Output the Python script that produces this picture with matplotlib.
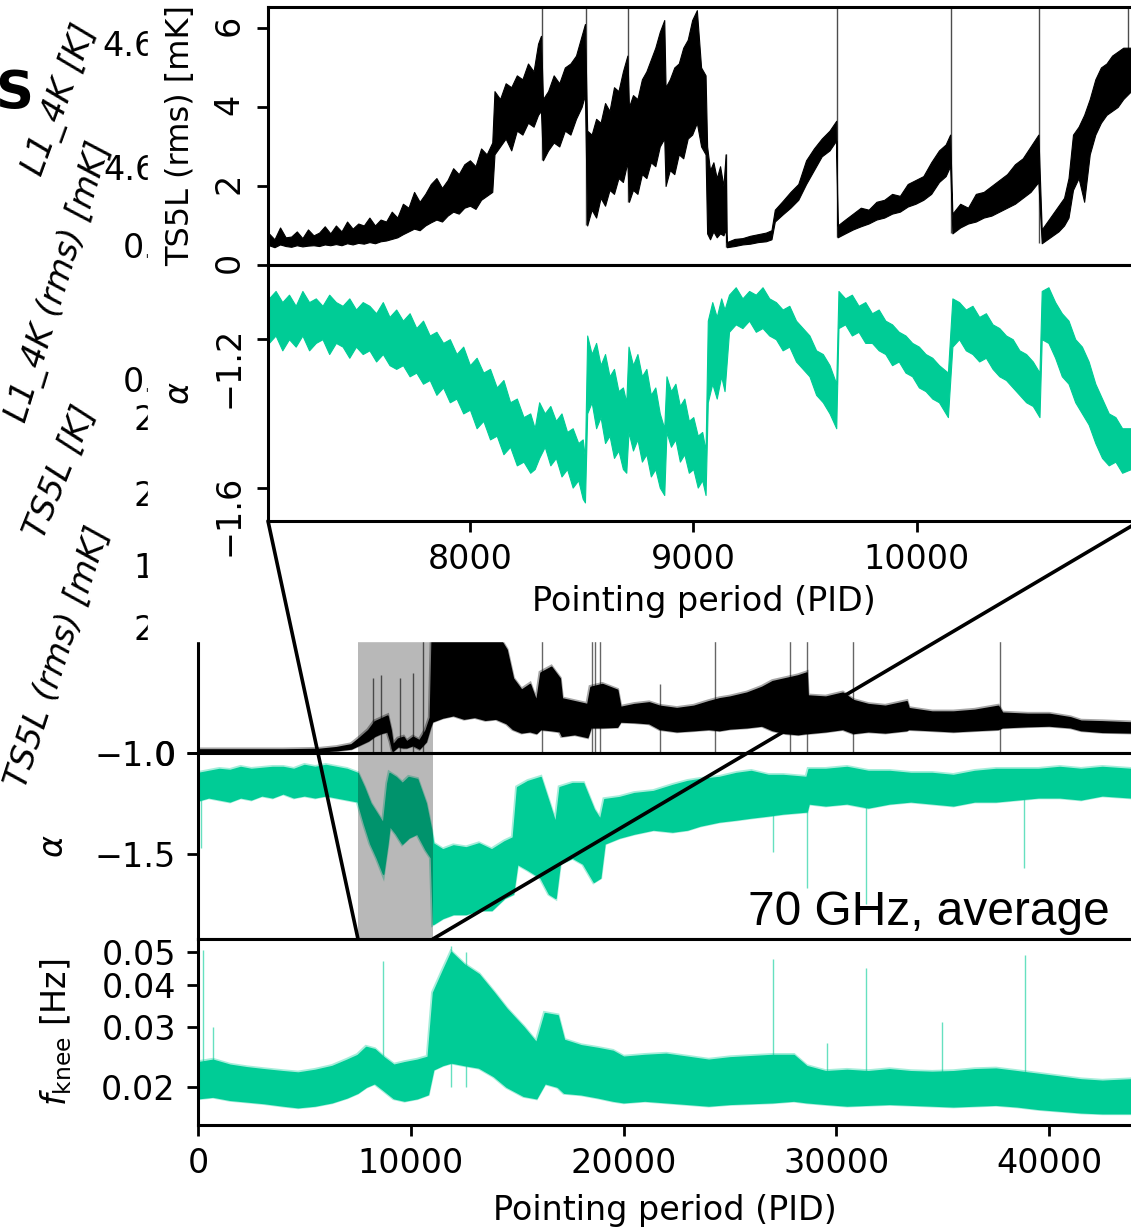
import matplotlib
matplotlib.use('Agg')
import matplotlib.pyplot as plt
from matplotlib.patches import Rectangle, ConnectionPatch

# ---------------- data ----------------
# zoom inset, TS5L rms [mK]: lower / upper envelope of the noisy trace
inset_pid = [7100, 7125, 7150, 7175, 7200, 7225, 7250, 7275, 7300, 7325, 7350, 7375, 7400, 7425,
             7450, 7475, 7500, 7525, 7550, 7575, 7600, 7625, 7650, 7675, 7700, 7725, 7750, 7775,
             7800, 7825, 7850, 7875, 7900, 7925, 7950, 7975, 8000, 8025, 8050, 8075, 8100,
             8110, 8135, 8160, 8185, 8210, 8235, 8260, 8285, 8305, 8318,
             8327, 8350, 8375, 8400, 8425, 8450, 8475, 8500, 8515,
             8525, 8545, 8565, 8585, 8605, 8625, 8645, 8665, 8685, 8705,
             8712, 8730, 8750, 8770, 8790, 8810, 8830, 8850, 8870,
             8876, 8895, 8915, 8935, 8955, 8975, 8995, 9016, 9035, 9055,
             9062, 9075, 9090, 9105, 9120, 9135, 9145,
             9150, 9185, 9220, 9255, 9290, 9325, 9350, 9365, 9400, 9435, 9470, 9505, 9540, 9575,
             9610, 9640,
             9646, 9680, 9715, 9750, 9785, 9820, 9855, 9890, 9925, 9960, 9995, 10030, 10065,
             10100, 10130, 10150,
             10160, 10195, 10230, 10265, 10300, 10335, 10370, 10405, 10440, 10475, 10510, 10545,
             10560, 10585, 10610, 10635, 10660, 10680, 10700, 10725, 10750, 10775, 10800, 10825,
             10850, 10875, 10900, 10925, 10960]
inset_ts_lo = [0.50, 0.45, 0.52, 0.48, 0.46, 0.50, 0.47, 0.49, 0.50, 0.48, 0.52, 0.50, 0.53, 0.50,
               0.55, 0.52, 0.56, 0.54, 0.58, 0.55, 0.60, 0.62, 0.66, 0.70, 0.78, 0.85, 0.92, 0.88,
               1.00, 1.08, 1.15, 1.10, 1.25, 1.35, 1.30, 1.45, 1.50, 1.42, 1.65, 1.75, 1.85,
               2.80, 3.00, 3.20, 2.90, 3.40, 3.30, 3.60, 3.50, 3.80, 3.90,
               2.65, 2.90, 3.10, 3.00, 3.40, 3.30, 3.70, 4.00, 4.30,
               1.00, 1.40, 1.20, 1.70, 1.50, 1.90, 1.80, 2.20, 2.10, 2.60,
               1.60, 1.90, 1.80, 2.30, 2.20, 2.60, 2.50, 3.00, 3.20,
               2.00, 2.40, 2.30, 2.80, 2.70, 3.20, 3.30, 3.60, 3.00, 2.80,
               0.80, 0.65, 0.85, 0.70, 0.80, 0.75, 0.90,
               0.45, 0.48, 0.52, 0.54, 0.58, 0.60, 0.65, 1.10, 1.28, 1.45, 1.65, 2.05, 2.40, 2.75,
               2.90, 3.15,
               0.70, 0.80, 0.90, 0.98, 1.05, 1.15, 1.20, 1.30, 1.35, 1.48, 1.55, 1.65, 1.80,
               2.10, 2.25, 2.50,
               0.80, 0.95, 1.05, 1.10, 1.20, 1.25, 1.35, 1.45, 1.55, 1.70, 1.85, 2.10,
               0.55, 0.65, 0.75, 0.85, 1.00, 1.20, 1.90, 2.20, 1.60, 2.80, 3.30, 3.60,
               3.80, 3.90, 4.00, 4.20, 4.40]
inset_ts_hi = [0.80, 0.65, 0.95, 0.70, 0.72, 0.85, 0.68, 0.90, 0.75, 0.82, 0.98, 0.80, 1.00, 0.85,
               1.10, 0.92, 1.05, 1.00, 1.20, 1.00, 1.15, 1.10, 1.35, 1.20, 1.55, 1.45, 1.85, 1.60,
               1.80, 2.05, 2.20, 1.95, 2.15, 2.45, 2.30, 2.55, 2.65, 2.50, 2.95, 2.80, 3.10,
               4.40, 4.20, 4.60, 4.50, 4.80, 4.70, 5.10, 4.90, 5.60, 5.80,
               4.20, 4.40, 4.80, 4.60, 5.00, 5.10, 5.30, 5.80, 6.10,
               3.40, 3.30, 3.70, 3.60, 4.10, 3.90, 4.50, 4.40, 4.90, 5.30,
               4.00, 4.30, 4.20, 4.70, 4.90, 5.20, 5.50, 5.90, 6.20,
               4.50, 4.70, 5.00, 5.10, 5.50, 5.70, 6.20, 6.45, 5.00, 4.80,
               3.00, 2.40, 2.60, 2.20, 2.50, 2.00, 2.80,
               0.58, 0.66, 0.68, 0.74, 0.78, 0.82, 0.88, 1.40, 1.62, 1.85, 2.05, 2.65, 2.95, 3.20,
               3.40, 3.65,
               1.00, 1.15, 1.30, 1.45, 1.40, 1.60, 1.65, 1.80, 1.75, 2.05, 2.15, 2.25, 2.60,
               2.90, 3.05, 3.30,
               1.30, 1.55, 1.45, 1.80, 1.85, 2.00, 2.15, 2.30, 2.55, 2.70, 3.00, 3.30,
               0.90, 1.10, 1.30, 1.50, 1.70, 2.20, 3.30, 3.50, 3.80, 4.20, 4.70, 5.00,
               5.10, 5.30, 5.40, 5.50, 5.50]
# single off-scale samples at the resets
inset_spike_pid = [8322, 8519, 8707, 9148, 9642, 10155, 10550, 10945]
inset_spike_lo = [2.65, 1.00, 1.60, 0.45, 0.70, 0.80, 0.55, 4.40]
inset_spike_hi = [7.0, 7.0, 7.0, 2.80, 7.0, 7.0, 7.0, 7.0]

# zoom inset, alpha
inset_al_pid = [7100, 7130, 7160, 7190, 7220, 7250, 7280, 7310, 7340, 7370, 7400, 7430, 7460, 7490,
                7520, 7550, 7580, 7610, 7640, 7670, 7700, 7730, 7760, 7790, 7820, 7850, 7880, 7910,
                7940, 7970, 8000, 8030, 8060, 8090, 8120, 8150, 8180, 8210, 8240, 8270, 8290,
                8310, 8335, 8360, 8385, 8410, 8435, 8460, 8485, 8505, 8515,
                8525, 8545, 8565, 8585, 8605, 8625, 8645, 8665, 8685, 8700, 8710, 8730, 8750, 8770,
                8790, 8810, 8830, 8850, 8870, 8880, 8900, 8920, 8940, 8960, 8980, 9000, 9020, 9040,
                9055, 9065, 9085, 9105, 9125, 9140,
                9160, 9190, 9220, 9250, 9280, 9310, 9340, 9370, 9400, 9430, 9460, 9490, 9520, 9550,
                9580, 9610, 9640,
                9650, 9680, 9710, 9740, 9770, 9800, 9830, 9860, 9890, 9920, 9950, 9980, 10010,
                10040, 10070, 10100, 10140,
                10160, 10190, 10220, 10250, 10280, 10310, 10340, 10370, 10400, 10430, 10460, 10490,
                10520, 10550,
                10560, 10590, 10620, 10650, 10680, 10710, 10740, 10770, 10800, 10830, 10860, 10890,
                10920, 10960]
inset_al_hi = [-1.09, -1.07, -1.10, -1.08, -1.11, -1.07, -1.10, -1.09, -1.11, -1.08, -1.10, -1.11, -1.09, -1.12,
               -1.10, -1.11, -1.13, -1.10, -1.14, -1.12, -1.15, -1.13, -1.17, -1.15, -1.19, -1.18, -1.21, -1.20,
               -1.24, -1.22, -1.27, -1.25, -1.29, -1.28, -1.33, -1.31, -1.37, -1.36, -1.41, -1.40, -1.44,
               -1.37, -1.40, -1.38, -1.42, -1.40, -1.45, -1.44, -1.48, -1.47, -1.52,
               -1.19, -1.24, -1.21, -1.27, -1.24, -1.30, -1.28, -1.34, -1.33, -1.37, -1.22, -1.27, -1.24, -1.30,
               -1.28, -1.35, -1.33, -1.40, -1.44, -1.30, -1.34, -1.32, -1.38, -1.36, -1.42, -1.41, -1.46, -1.45,
               -1.50, -1.15, -1.10, -1.14, -1.09, -1.12,
               -1.08, -1.06, -1.09, -1.07, -1.08, -1.06, -1.09, -1.10, -1.12, -1.11, -1.15, -1.17, -1.19, -1.23,
               -1.24, -1.27, -1.32,
               -1.07, -1.09, -1.08, -1.11, -1.10, -1.13, -1.12, -1.15, -1.16, -1.18, -1.19, -1.21, -1.22,
               -1.24, -1.25, -1.27, -1.29,
               -1.09, -1.10, -1.12, -1.11, -1.14, -1.13, -1.16, -1.17, -1.19, -1.20, -1.23, -1.24,
               -1.26, -1.29,
               -1.07, -1.06, -1.10, -1.13, -1.15, -1.20, -1.22, -1.26, -1.32, -1.36, -1.40, -1.41,
               -1.44, -1.44]
inset_al_lo = [-1.21, -1.19, -1.23, -1.20, -1.22, -1.19, -1.23, -1.21, -1.20, -1.24, -1.21, -1.22, -1.25, -1.22,
               -1.24, -1.23, -1.26, -1.24, -1.27, -1.28, -1.27, -1.30, -1.29, -1.32, -1.31, -1.35, -1.33, -1.37,
               -1.36, -1.40, -1.39, -1.44, -1.42, -1.47, -1.46, -1.51, -1.49, -1.54, -1.53, -1.56, -1.55,
               -1.52, -1.49, -1.54, -1.52, -1.57, -1.55, -1.60, -1.58, -1.63, -1.64,
               -1.40, -1.37, -1.44, -1.41, -1.48, -1.46, -1.52, -1.50, -1.55, -1.56, -1.45, -1.50, -1.47, -1.53,
               -1.51, -1.57, -1.55, -1.60, -1.62, -1.45, -1.49, -1.47, -1.53, -1.51, -1.56, -1.55, -1.60, -1.58,
               -1.62, -1.37, -1.32, -1.36, -1.30, -1.34,
               -1.18, -1.16, -1.17, -1.15, -1.18, -1.17, -1.19, -1.20, -1.23, -1.22, -1.26, -1.28, -1.30, -1.35,
               -1.37, -1.40, -1.44,
               -1.17, -1.16, -1.19, -1.18, -1.21, -1.21, -1.23, -1.24, -1.27, -1.26, -1.29, -1.30, -1.33,
               -1.34, -1.36, -1.37, -1.41,
               -1.22, -1.20, -1.23, -1.24, -1.26, -1.25, -1.28, -1.30, -1.31, -1.33, -1.35, -1.37,
               -1.38, -1.41,
               -1.20, -1.21, -1.25, -1.30, -1.32, -1.37, -1.40, -1.43, -1.48, -1.52, -1.54, -1.53,
               -1.56, -1.55]

# full mission, TS5L rms
ts_pid = [0, 2000, 4000, 5700, 6500, 7200, 7600, 8000, 8300, 8600, 8900, 9050, 9150, 9400, 9650,
          9800, 10100, 10400, 10700, 10900, 11000, 11500, 12000, 12500, 13000, 13500, 14000, 14500,
          14800, 15200, 15600, 15900, 16100, 16600, 17000, 17100, 17700, 18300, 18450, 19000, 19700,
          19850, 20500, 21200, 21700, 22500, 23300, 24000, 24500, 25000, 25800, 26500, 27000, 27600,
          28200, 28600, 28650, 29500, 30300, 30800, 31500, 32300, 33300, 33400, 34500, 35500, 36500,
          37600, 37800, 39000, 40000, 41000, 41500, 42500, 43850]
ts_lo = [0.02, 0.02, 0.02, 0.03, 0.05, 0.08, 0.15, 0.22, 0.30, 0.35, 0.38, 0.20, 0.04, 0.12, 0.10,
         0.10, 0.14, 0.08, 0.20, 0.45, 0.55, 0.62, 0.66, 0.60, 0.63, 0.58, 0.60, 0.52,
         0.42, 0.36, 0.38, 0.35, 0.42, 0.40, 0.38, 0.30, 0.33, 0.28, 0.45, 0.45, 0.46,
         0.55, 0.54, 0.52, 0.42, 0.38, 0.40, 0.42, 0.40, 0.43, 0.45, 0.48, 0.40, 0.35,
         0.33, 0.35, 0.35, 0.38, 0.42, 0.35, 0.38, 0.36, 0.40, 0.42, 0.40, 0.38, 0.40,
         0.42, 0.45, 0.47, 0.48, 0.45, 0.40, 0.37, 0.36]
ts_hi = [0.06, 0.06, 0.06, 0.07, 0.10, 0.15, 0.27, 0.40, 0.55, 0.60, 0.65, 0.40, 0.14, 0.25, 0.28,
         0.20, 0.28, 0.22, 0.40, 0.62, 2.20, 2.20, 2.20, 2.20, 2.20, 2.20, 2.10, 1.80,
         1.30, 1.10, 1.20, 0.90, 1.40, 1.50, 1.30, 0.95, 0.90, 0.85, 1.15, 1.20, 1.10,
         0.80, 0.85, 0.88, 0.82, 0.78, 0.82, 0.90, 0.95, 0.98, 1.05, 1.15, 1.25, 1.30,
         1.35, 1.40, 1.00, 0.98, 1.05, 0.92, 0.85, 0.82, 0.90, 0.78, 0.72, 0.72, 0.75,
         0.82, 0.70, 0.68, 0.68, 0.62, 0.56, 0.55, 0.53]
ts_spike_pid = [8230, 8600, 9480, 10100, 10560, 16170, 18500, 18650, 18900, 21700, 24300, 27820,
                28620, 30780, 37700]
ts_spike_top = [1.30, 1.35, 1.30, 1.40, 2.20, 2.20, 2.20, 2.20, 2.20, 1.20, 2.20, 2.20,
                2.20, 2.20, 2.20]

# full mission, alpha
al_pid = [0, 500, 1000, 1500, 2000, 2500, 3000, 3500, 4000, 4500, 5000, 5500, 6000, 6500, 7000,
          7500, 7800, 8100, 8400, 8700, 8900, 9000, 9300, 9600, 9900, 10300, 10700, 10950, 11050,
          11500, 12000, 12600, 13200, 13800, 14400, 14800, 15000, 15500, 16100, 16500, 16800,
          17000, 17600, 18100, 18600, 18900, 19100, 19800, 20500, 21400, 22300, 23000, 23600,
          24500, 25300, 26000, 26800, 27500, 28600, 28700, 29500, 30500, 31500, 32500, 33500,
          34500, 35500, 36500, 37500, 38500, 39500, 40500, 41500, 42500, 43850]
al_lo = [-1.235, -1.22, -1.23, -1.24, -1.22, -1.23, -1.21, -1.22, -1.20, -1.22, -1.21, -1.22, -1.21,
         -1.22, -1.23, -1.24, -1.35, -1.45, -1.52, -1.60, -1.45, -1.36, -1.40, -1.45, -1.42, -1.40,
         -1.48, -1.52, -1.85, -1.82, -1.80, -1.80, -1.78, -1.78, -1.72, -1.70, -1.55, -1.58, -1.62,
         -1.70, -1.72, -1.55, -1.52, -1.55, -1.64, -1.62, -1.45, -1.42, -1.40, -1.38, -1.39, -1.38,
         -1.36, -1.34, -1.33, -1.32, -1.31, -1.30, -1.29, -1.25, -1.26, -1.25, -1.27, -1.25, -1.24,
         -1.25, -1.26, -1.24, -1.24, -1.23, -1.22, -1.22, -1.23, -1.21, -1.22]
al_hi = [-1.10, -1.09, -1.08, -1.085, -1.07, -1.08, -1.075, -1.07, -1.07, -1.08, -1.06, -1.07, -1.06,
         -1.07, -1.08, -1.10, -1.17, -1.25, -1.30, -1.35, -1.15, -1.10, -1.12, -1.15, -1.12, -1.13,
         -1.25, -1.38, -1.45, -1.48, -1.46, -1.47, -1.45, -1.48, -1.44, -1.42, -1.17, -1.14, -1.12,
         -1.25, -1.35, -1.17, -1.15, -1.15, -1.28, -1.33, -1.23, -1.22, -1.20, -1.19, -1.16, -1.14,
         -1.13, -1.12, -1.10, -1.09, -1.11, -1.11, -1.12, -1.08, -1.08, -1.07, -1.09, -1.09, -1.10,
         -1.10, -1.11, -1.09, -1.08, -1.08, -1.08, -1.07, -1.08, -1.07, -1.08]
al_spike_pid = [150, 27020, 28620, 31400, 38800]
al_spike_low = [-1.47, -1.49, -1.67, -1.75, -1.57]

# full mission, knee frequency [Hz]
fk_pid = [0, 700, 1500, 2300, 3100, 4000, 4700, 5500, 6300, 7000, 7500, 7900, 8300, 8700, 9200,
          9700, 10300, 10800, 11050, 11500, 11900, 12500, 13200, 13900, 14500, 15300, 15900,
          16300, 16900, 17200, 18000, 18800, 19500, 20000, 21000, 22000, 23000, 24000, 25000,
          26000, 27000, 28000, 28600, 29500, 30500, 31500, 32500, 33500, 34500, 35500, 36500,
          37500, 38500, 39500, 40500, 41500, 42500, 43850]
fk_lo = [0.0185, 0.0187, 0.0183, 0.0181, 0.0179, 0.0176, 0.0174, 0.0176, 0.0180, 0.0186, 0.0192,
         0.0200, 0.0205, 0.0196, 0.0185, 0.0182, 0.0185, 0.0190, 0.0225, 0.0232, 0.0236, 0.0232,
         0.0228, 0.0215, 0.0200, 0.0188, 0.0185, 0.0205, 0.0200, 0.0192, 0.0190, 0.0186, 0.0182,
         0.0180, 0.0182, 0.0180, 0.0178, 0.0176, 0.0178, 0.0179, 0.0180, 0.0182, 0.0180, 0.0178,
         0.0176, 0.0177, 0.0178, 0.0177, 0.0176, 0.0175, 0.0176, 0.0177, 0.0175, 0.0172, 0.0170,
         0.0168, 0.0167, 0.0167]
fk_hi = [0.0236, 0.0240, 0.0232, 0.0228, 0.0225, 0.0222, 0.0220, 0.0224, 0.0230, 0.0240, 0.0248,
         0.0262, 0.0258, 0.0245, 0.0232, 0.0236, 0.0240, 0.0245, 0.0380, 0.0440, 0.0500, 0.0460,
         0.0430, 0.0380, 0.0340, 0.0300, 0.0270, 0.0330, 0.0325, 0.0275, 0.0265, 0.0260, 0.0255,
         0.0245, 0.0248, 0.0250, 0.0245, 0.0240, 0.0244, 0.0246, 0.0248, 0.0248, 0.0230, 0.0222,
         0.0224, 0.0222, 0.0225, 0.0222, 0.0221, 0.0222, 0.0225, 0.0226, 0.0222, 0.0218, 0.0214,
         0.0210, 0.0208, 0.0210]
fk_spike_pid = [220, 700, 8700, 11900, 12600, 27040, 29560, 31400, 34970, 38870]
fk_spike_top = [0.0509, 0.030, 0.047, 0.052, 0.050, 0.0476, 0.027, 0.045, 0.031, 0.049]

zoom_span = [7520, 11040]

# ---------------- layout ----------------
W, H = 1131, 1227
GREEN = '#00cc96'


def fx(px):
    return px / W


def fy(py):
    return 1 - py / H


def band(ax, x, lo, hi, color, lw=1.2):
    # dense noisy trace drawn as its envelope, soft edges like the overplotted samples
    ax.fill_between(x, lo, hi, color=color, lw=lw, edgecolor=color)
    ax.plot(x, lo, color=color, lw=3, alpha=0.35, solid_joinstyle='miter')
    ax.plot(x, hi, color=color, lw=3, alpha=0.35, solid_joinstyle='miter')


plt.rcParams['font.family'] = 'DejaVu Sans'
plt.rcParams['font.size'] = 24
plt.rcParams['axes.linewidth'] = 2.2
plt.rcParams['xtick.major.width'] = 2.0
plt.rcParams['ytick.major.width'] = 2.0
plt.rcParams['xtick.major.size'] = 8
plt.rcParams['ytick.major.size'] = 8
plt.rcParams['xtick.major.pad'] = 8
plt.rcParams['ytick.major.pad'] = 8

fig = plt.figure(figsize=(W / 100, H / 100), dpi=100)

main_w = (W - 198) / W
ax_ts = fig.add_axes([fx(198), fy(753), main_w, (753 - 641) / H])
ax_al = fig.add_axes([fx(198), fy(939), main_w, (939 - 753) / H])
ax_fk = fig.add_axes([fx(198), fy(1125), main_w, (1125 - 939) / H])

in_w = (1140 - 268) / W
in_ts = fig.add_axes([fx(268), fy(265), in_w, (265 - 7) / H], zorder=3)
in_al = fig.add_axes([fx(268), fy(521), in_w, (521 - 265) / H], zorder=3)

# ---- main panels ----
for ax in (ax_ts, ax_al, ax_fk):
    ax.set_xlim(0, 43850)
    ax.spines['right'].set_visible(False)
for ax in (ax_ts, ax_al):
    ax.axvspan(zoom_span[0], zoom_span[1], color='k', alpha=0.28, lw=0, zorder=4)

band(ax_ts, ts_pid, ts_lo, ts_hi, 'k')
ax_ts.vlines(ts_spike_pid, ts_lo[0], ts_spike_top, color='k', lw=1, alpha=0.6)
ax_ts.set_ylim(0, 1.95)
ax_ts.set_yticks([0])
ax_ts.spines['top'].set_visible(False)
ax_ts.tick_params(axis='x', bottom=False, labelbottom=False)

band(ax_al, al_pid, al_lo, al_hi, GREEN)
ax_al.vlines(al_spike_pid, al_spike_low, -1.15, color=GREEN, lw=1, alpha=0.6)
ax_al.set_ylim(-1.925, -1.0)
ax_al.set_yticks([-1.5, -1.0])
ax_al.tick_params(axis='x', bottom=False, labelbottom=False)
ax_al.set_ylabel(r'$\alpha$')
ax_al.yaxis.set_label_coords((70 - 198) / (W - 198), 0.5)
ax_al.text((1110 - 198) / (W - 198), (939 - 925) / (939 - 753), '70 GHz, average',
           transform=ax_al.transAxes, ha='right', va='baseline',
           family='Liberation Sans', fontsize=34.5, zorder=6)

band(ax_fk, fk_pid, fk_lo, fk_hi, GREEN)
ax_fk.vlines(fk_spike_pid, 0.020, fk_spike_top, color=GREEN, lw=1, alpha=0.6)
ax_fk.set_yscale('log')
ax_fk.set_ylim(0.0154, 0.0547)
ax_fk.set_yticks([0.02, 0.03, 0.04, 0.05])
ax_fk.set_yticklabels(['0.02', '0.03', '0.04', '0.05'])
ax_fk.yaxis.set_minor_locator(plt.NullLocator())
ax_fk.set_xticks([0, 10000, 20000, 30000, 40000])
ax_fk.set_xlabel('Pointing period (PID)', labelpad=10)
ax_fk.set_ylabel(r'$f_{\rm knee}$ [Hz]')
ax_fk.yaxis.set_label_coords((74 - 198) / (W - 198), 0.5)

# ---- zoom inset ----
inset_xlim = (7096, 11000)
for ax in (in_ts, in_al):
    ax.set_xlim(*inset_xlim)
    ax.tick_params(axis='y', labelrotation=90)

in_ts.fill_between(inset_pid, inset_ts_lo, inset_ts_hi, color='k', lw=0.8, edgecolor='k')
in_ts.vlines(inset_spike_pid, inset_spike_lo, inset_spike_hi, color='k', lw=1, alpha=0.7)
in_ts.set_ylim(0, 6.53)
in_ts.set_yticks([0, 2, 4, 6])
in_ts.tick_params(axis='x', bottom=False, labelbottom=False)
in_ts.set_ylabel('TS5L (rms) [mK]', fontsize=23)
in_ts.yaxis.set_label_coords((196 - 268) / (1140 - 268), 0.5)

in_al.fill_between(inset_al_pid, inset_al_lo, inset_al_hi, color=GREEN, lw=0.8, edgecolor=GREEN)
in_al.set_ylim(-1.69, -1.0)
in_al.set_yticks([-1.6, -1.2])
in_al.set_xticks([8000, 9000, 10000])
in_al.set_xlabel('Pointing period (PID)', labelpad=6)
in_al.set_ylabel(r'$\alpha$')
in_al.yaxis.set_label_coords((196 - 268) / (1140 - 268), 0.5)

# ---- zoom connectors ----
for xa, xb in ((zoom_span[0], inset_xlim[0]), (zoom_span[1], inset_xlim[1])):
    con = ConnectionPatch(xyA=(xa, -1.925), coordsA=ax_al.transData,
                          xyB=(xb, -1.69), coordsB=in_al.transData,
                          color='k', lw=2.6, zorder=5)
    fig.add_artist(con)

# ---- leftovers of the underlying panels, clipped by the inset background ----
left_bits = [('4.65', 102, 47), ('4.65', 103, 171), ('0.0', 123, 249), ('0.0', 123, 383),
             ('2.0', 133, 421), ('2.0', 133, 496), ('1.5', 133, 568), ('2.0', 133, 631)]
for txt, px, py in left_bits:
    fig.text(fx(px), fy(py), txt, ha='left', va='center', zorder=1)

slanted = [('L1_4K [K]', 60, 100, 70), ('L1_4K (rms) [mK]', 59, 282, 73),
           ('TS5L [K]', 60, 472, 68), ('TS5L (rms) [mK]', 58, 657, 72)]
for txt, px, py, rot in slanted:
    fig.text(fx(px), fy(py), txt, ha='center', va='center', rotation=rot,
             style='italic', zorder=1)
fig.text(fx(14), fy(94), 'S', ha='center', va='center', fontsize=38, weight='bold', zorder=1)

fig.add_artist(Rectangle((fx(148), fy(641)), 1 - fx(148), 641 / H,
                         transform=fig.transFigure, color='white', zorder=2))

fig.savefig('out.png', dpi=100)
